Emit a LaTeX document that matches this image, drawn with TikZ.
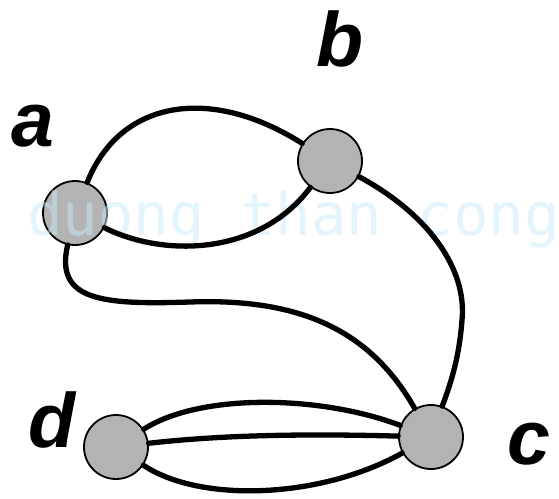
\documentclass[tikz,border=0pt]{standalone}
\usepackage{fontspec}
\setmainfont{Liberation Sans}
\newfontfamily\wmfont{DejaVu Sans Mono}
\definecolor{nodegray}{RGB}{179,179,179}
\definecolor{wmblue}{RGB}{200,234,250}
\begin{document}
\begin{tikzpicture}[x=1pt,y=-1pt,
  vertex/.style={circle,draw=black,line width=1.8pt,fill=nodegray,minimum size=64pt,inner sep=0pt},
  lbl/.style={font=\fontsize{77}{77}\selectfont\bfseries\itshape,inner sep=0pt,anchor=center},
  edge/.style={line width=5.3pt,line cap=round},
  wm/.style={font=\wmfont\fontsize{59}{59}\selectfont,text=wmblue,opacity=0.5,inner sep=0pt,anchor=base west}]
\useasboundingbox (0,0) rectangle (559,498);
\node[vertex] (a) at (75,213) {};
\node[vertex] (b) at (330,161) {};
\node[vertex] (c) at (431,437) {};
\node[vertex] (d) at (116,447) {};
\node[lbl] (la) at (33,126) {a};
\node[lbl] (lb) at (340,39) {b};
\node[lbl] (lc) at (529,444) {c};
\node[lbl] (ld) at (52,420) {d};
\node[wm] (wmk) at (27,235) {duong than cong};
% a-b
\draw[edge] (a) .. controls (120,100) and (210,85) .. (b);
\draw[edge] (a) .. controls (165,258) and (260,255) .. (b);
% a-c
\coordinate (m1) at (190,302);
\coordinate (m2) at (462,320);
\draw[edge] (a) .. controls (55,300) and (100,305) .. (m1) .. controls (300,298) and (370,330) .. (c);
% b-c
\draw[edge] (b) .. controls (430,215) and (467,270) .. (m2) .. controls (459,360) and (450,385) .. (c);
% d-c
\draw[edge] (d) .. controls (200,393) and (320,395) .. (c);
\draw[edge] (d) .. controls (230,434) and (320,434) .. (c);
\draw[edge] (d) .. controls (200,503) and (320,499) .. (c);
\end{tikzpicture}
\end{document}
